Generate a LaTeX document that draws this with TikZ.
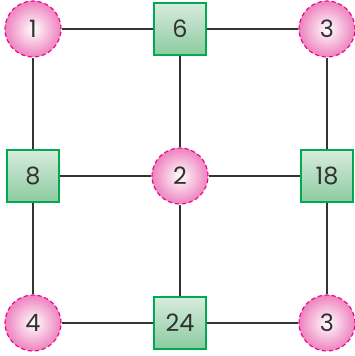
\documentclass[tikz,border=0pt]{standalone}
\usepackage{fontspec}
\setmainfont{Poppins}
\usetikzlibrary{shadings}
\definecolor{rosa}{RGB}{236,0,140}
\definecolor{rosaclaro}{RGB}{238,130,190}
\definecolor{verde}{RGB}{0,170,80}
\definecolor{verdearriba}{RGB}{215,236,222}
\definecolor{verdeabajo}{RGB}{140,203,160}
\definecolor{texto}{RGB}{50,50,50}
\tikzset{
    circulo/.style={circle, minimum size=56*0.025cm, inner sep=0pt, draw=rosa, densely dashed, line width=0.8pt,
        inner color=white, outer color=rosaclaro, text=texto, font=\fontsize{17}{17}\selectfont},
    cuadro/.style={rectangle, minimum size=52*0.025cm, inner sep=0pt, draw=verde, line width=1pt,
        top color=verdearriba, bottom color=verdeabajo, text=texto, font=\fontsize{17}{17}\selectfont},
    arista/.style={line width=1.5pt, black!80}
}
\begin{document}
\begin{tikzpicture}[x=0.025cm, y=-0.025cm]
        % Marco
        \useasboundingbox (0, 0) rectangle (355, 356);

        % Circulos
        \node[circulo] (n1) at (33, 29) {1};
        \node[circulo] (n3a) at (327, 29) {3};
        \node[circulo] (n2) at (180, 176) {2};
        \node[circulo] (n4) at (33, 323) {4};
        \node[circulo] (n3b) at (327, 323) {3};

        % Cuadros
        \node[cuadro] (n6) at (180, 29) {6};
        \node[cuadro] (n8) at (33, 176) {8};
        \node[cuadro] (n18) at (327, 176) {18};
        \node[cuadro] (n24) at (180, 323) {24};

        % Aristas
        \draw[arista] (n1) -- (n6);
        \draw[arista] (n6) -- (n3a);
        \draw[arista] (n1) -- (n8);
        \draw[arista] (n6) -- (n2);
        \draw[arista] (n3a) -- (n18);
        \draw[arista] (n8) -- (n2);
        \draw[arista] (n2) -- (n18);
        \draw[arista] (n8) -- (n4);
        \draw[arista] (n2) -- (n24);
        \draw[arista] (n18) -- (n3b);
        \draw[arista] (n4) -- (n24);
        \draw[arista] (n24) -- (n3b);

    \end{tikzpicture}
\end{document}
